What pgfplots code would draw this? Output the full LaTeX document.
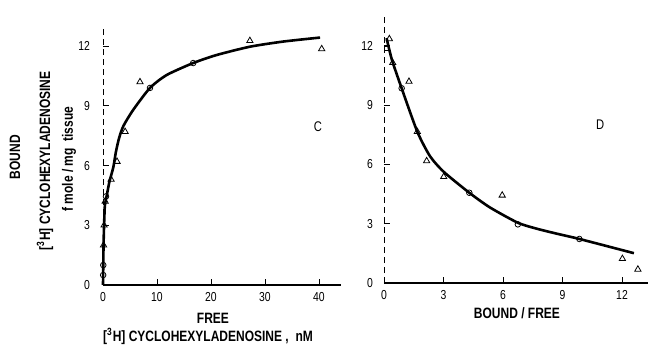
\documentclass[border=0pt]{standalone}
\usepackage{fontspec}
\setmainfont{Liberation Sans}
\newfontfamily\cond{Liberation Sans}[FakeStretch=0.8]
\usepackage{pgfplots}
\pgfplotsset{compat=1.18}
\begin{document}
\begin{tikzpicture}
\path[use as bounding box] (0,0) rectangle (325pt,172.5pt);
\pgfplotsset{
  common/.style={
    scale only axis, axis lines=left, axis line style={-},
    x axis line style={line width=1.2pt},
    y axis line style={thin, densely dashed},
    tick align=inside, major tick length=3pt,
    tick style={black, thin},
    /pgf/number format/assume math mode=true,
    tick label style={font=\cond\fontsize{6.5}{7}\selectfont},
    clip=false,
    tri/.style={only marks, mark=triangle, mark size=1.8pt, black, thin},
    cir/.style={only marks, mark=o, mark size=1.4pt, black, thin},
  }
}
% Left panel
\begin{axis}[common, at={(51.5pt,30pt)}, anchor=south west,
  width=118.8pt, height=128.4pt,
  xmin=0, xmax=44, ymin=0, ymax=12.9,
  yticklabel style={xshift=-3pt},
  xtick={0,10,20,30,40}, ytick={0,3,6,9,12}]
\addplot[black, line width=1.3pt, smooth, tension=0.4] coordinates {
 (0,0) (0.05,1) (0.1,2) (0.2,3) (0.35,4) (0.7,4.5) (1.2,5.2) (1.9,5.9)
 (2.4,6.7) (3.0,7.4) (3.8,8.0) (5.6,8.8) (8.7,9.9) (11.8,10.55)
 (16.7,11.15) (21,11.55) (27.2,11.97) (33.4,12.23) (40.2,12.43)};
\addplot[tri] coordinates {(27.2,12.27) (40.5,11.86) (6.85,10.2) (4.1,7.7) (2.6,6.2) (1.5,5.3) (0.4,4.2) (0.2,3.0) (0.1,2.0)};
\addplot[cir] coordinates {(8.7,9.9) (16.7,11.15) (0.55,4.45) (0.05,1.0) (0.03,0.5)};
\node[font=\cond\fontsize{7}{8}\selectfont] at (axis cs:39.8,7.95) {C};
\end{axis}
% Right panel
\begin{axis}[common, at={(192pt,31pt)}, anchor=south west,
  width=131.9pt, height=135pt,
  xmin=0, xmax=13.3, ymin=0, ymax=13.67,
  yticklabel style={xshift=-2pt},
  xtick={0,3,6,9,12}, ytick={0,3,6,9,12}]
\addplot[black, line width=1.3pt, smooth, tension=0.4] coordinates {
 (0.13,12.4) (0.4,11.3) (0.89,9.86) (1.68,7.66) (2.32,6.42) (3.01,5.63)
 (4.3,4.57) (5.35,3.82) (6.75,3.05) (7.7,2.75) (8.7,2.5) (9.85,2.23) (12.6,1.51)};
\addplot[tri] coordinates {(0.27,12.36) (0.44,11.15) (1.26,10.2) (1.68,7.66) (2.15,6.18) (3.01,5.38) (5.96,4.44) (12.02,1.23) (12.8,0.69)};
\addplot[cir] coordinates {(0.89,9.86) (4.30,4.57) (6.75,2.97) (9.85,2.23)};
\addplot[only marks, mark=square, mark size=1.3pt, black, thin] coordinates {(0.13,11.9)};
\node[font=\cond\fontsize{7}{8}\selectfont] at (axis cs:10.9,8.0) {D};
\end{axis}
% labels
\node[rotate=90, font=\cond\bfseries\fontsize{7.5}{8}\selectfont] at (7.5pt,94pt) {BOUND};
\node[rotate=90, font=\cond\bfseries\fontsize{7.5}{8}\selectfont] at (22.5pt,92pt) {[\textsuperscript{3}H] CYCLOHEXYLADENOSINE};
\node[rotate=90, font=\cond\bfseries\fontsize{7.5}{8}\selectfont] at (34.5pt,93pt) {f mole / mg \ tissue};
\node[font=\cond\bfseries\fontsize{7.5}{8}\selectfont] at (106.5pt,13.5pt) {FREE};
\node[font=\cond\bfseries\fontsize{7.5}{8}\selectfont] at (104pt,4.5pt) {[\textsuperscript{3}H] CYCLOHEXYLADENOSINE ,\ \ nM};
\node[font=\cond\bfseries\fontsize{7.5}{8}\selectfont] at (258.5pt,16pt) {BOUND / FREE};
\end{tikzpicture}
\end{document}
